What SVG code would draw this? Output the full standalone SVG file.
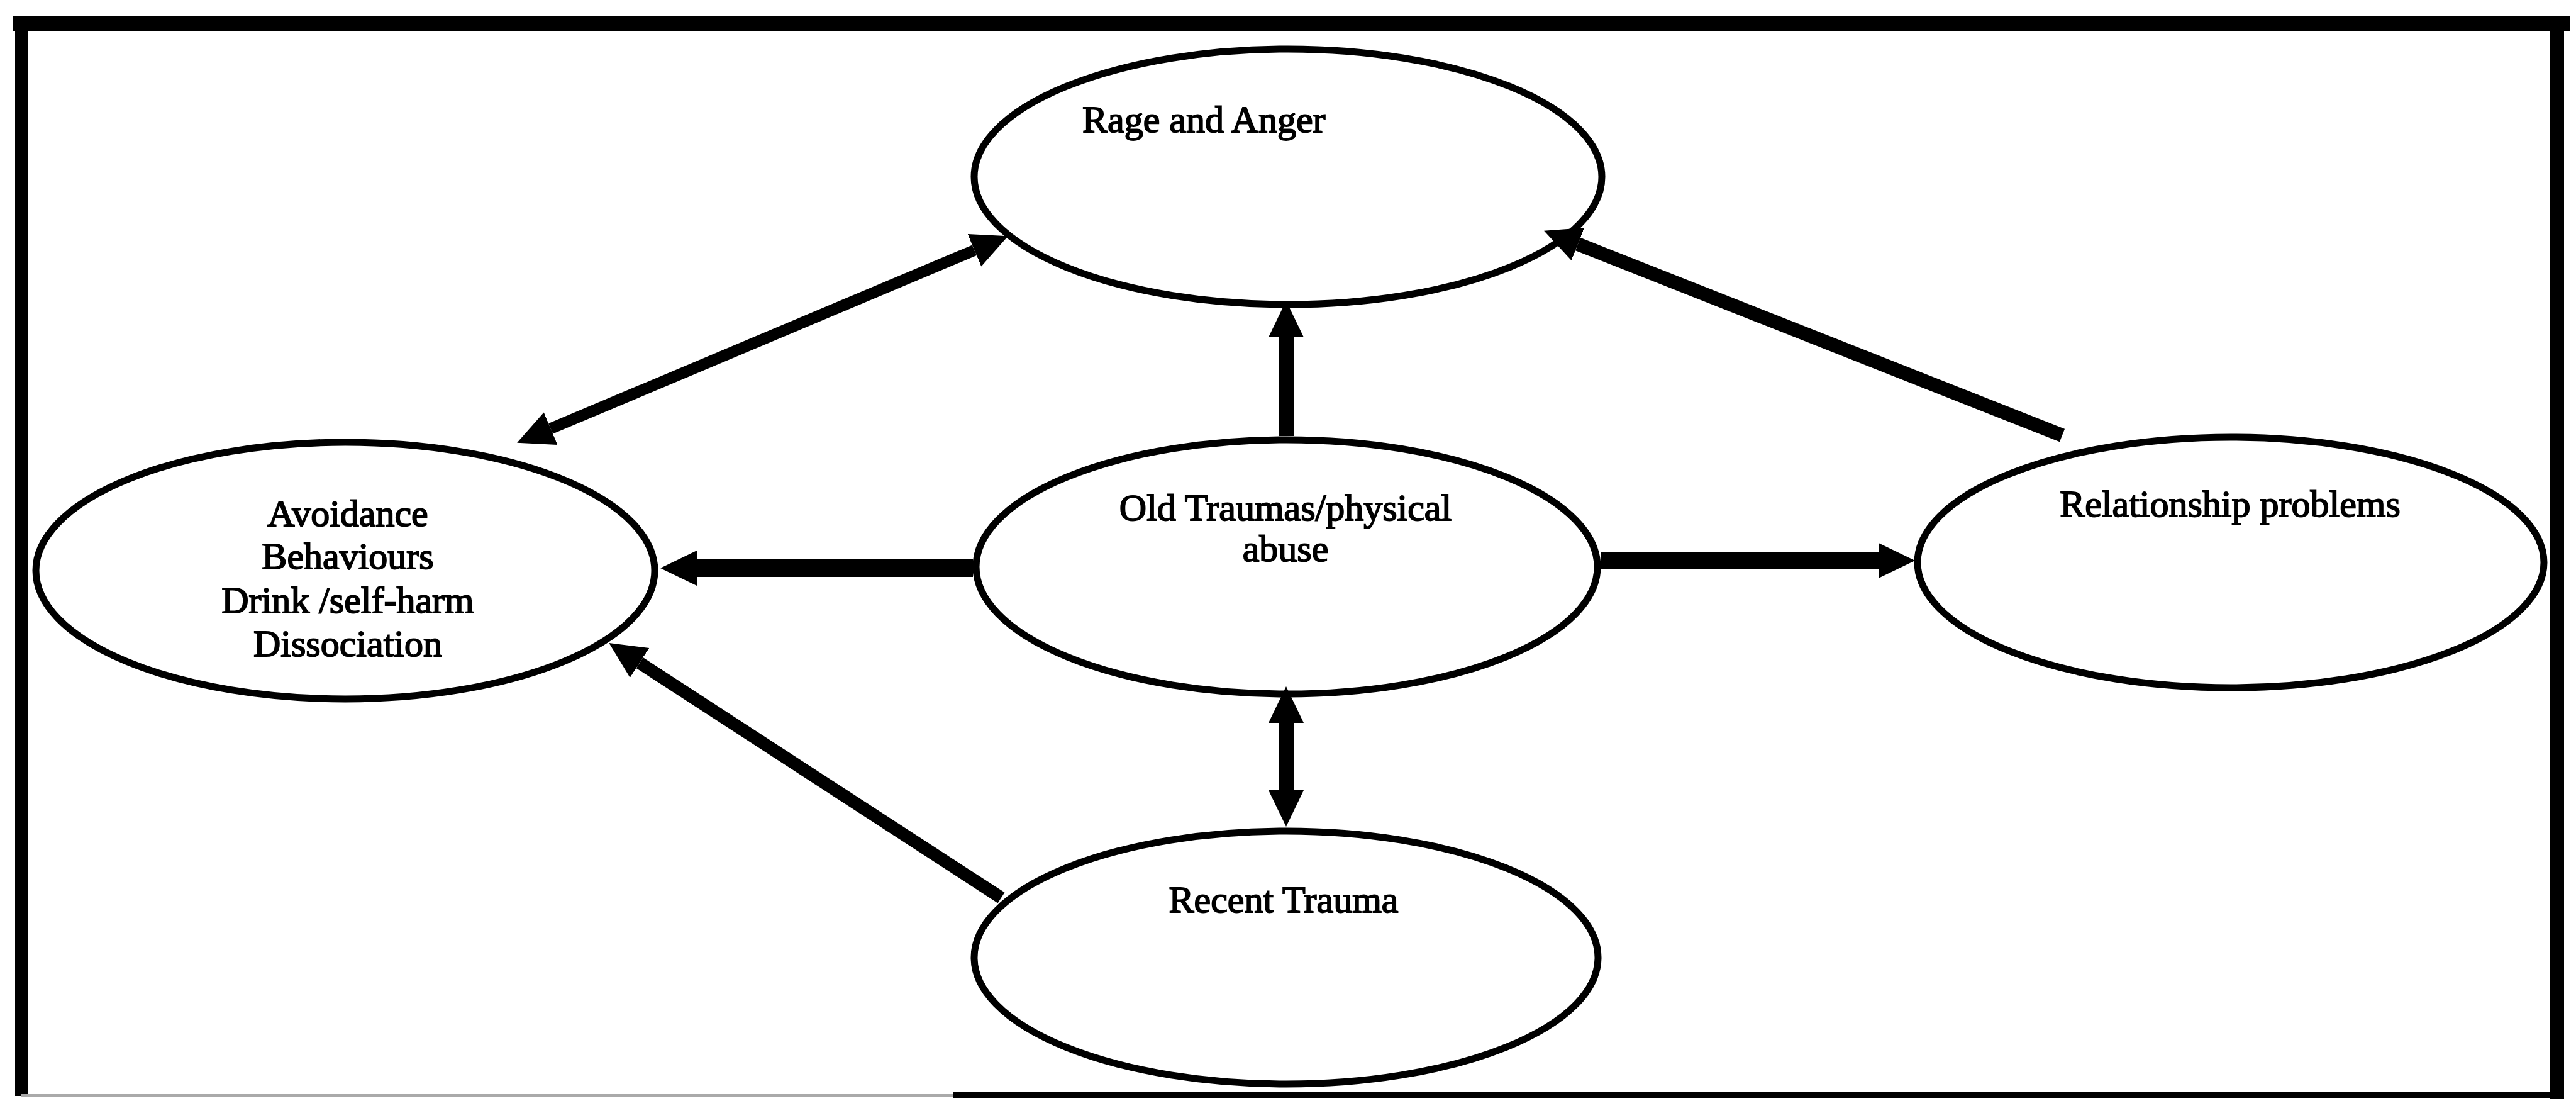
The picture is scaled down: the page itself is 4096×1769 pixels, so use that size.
<svg xmlns="http://www.w3.org/2000/svg" width="4096" height="1769" viewBox="0 0 4096 1769">
<defs>
<style>
.node ellipse{fill:#fff;stroke:#000;stroke-width:11}
.node text{font-family:"Liberation Serif","Times New Roman",serif;font-size:60px;fill:#000;stroke:#000;stroke-width:1.8}
.edge{fill:none;stroke:#000;stroke-linecap:butt}
.frame{stroke:#000;fill:none}
</style>
<marker id="ah" markerUnits="userSpaceOnUse" markerWidth="60" markerHeight="58" refX="0" refY="28" orient="auto-start-reverse" viewBox="0 0 60 58">
<path d="M0,0 L58,28 L0,56 Z" fill="#000"/>
</marker>
</defs>
<rect width="4096" height="1769" fill="#fff"/>
<g id="frame">
<line class="frame" x1="21" y1="37.5" x2="4087" y2="37.5" stroke-width="24"/>
<line class="frame" x1="34" y1="26" x2="34" y2="1742" stroke-width="20"/>
<line class="frame" x1="4066" y1="26" x2="4066" y2="1746" stroke-width="22"/>
<line x1="34" y1="1741" x2="1515" y2="1741" stroke="#aaa" stroke-width="4"/>
<line class="frame" x1="1515" y1="1740" x2="4077" y2="1740" stroke-width="10"/>
</g>
<g id="nodes">
<g id="rage" class="node">
<ellipse cx="2048" cy="281" rx="499" ry="203"/>
<text x="1721" y="210">Rage and Anger</text>
</g>
<g id="avoidance" class="node">
<ellipse cx="549" cy="907" rx="492" ry="204"/>
<text x="553" y="836" text-anchor="middle">Avoidance</text>
<text x="553" y="904" text-anchor="middle">Behaviours</text>
<text x="553" y="974" text-anchor="middle">Drink /self-harm</text>
<text x="553" y="1043" text-anchor="middle">Dissociation</text>
</g>
<g id="old" class="node">
<ellipse cx="2046" cy="901" rx="494" ry="202"/>
<text x="2044" y="827" text-anchor="middle">Old Traumas/physical</text>
<text x="2044" y="892" text-anchor="middle">abuse</text>
</g>
<g id="relationship" class="node">
<ellipse cx="3547" cy="894" rx="498" ry="199"/>
<text x="3546" y="821" text-anchor="middle">Relationship problems</text>
</g>
<g id="recent" class="node">
<ellipse cx="2045" cy="1522" rx="496" ry="201"/>
<text x="2041" y="1450" text-anchor="middle">Recent Trauma</text>
</g>
</g>
<g id="connectors">
<path class="edge" d="M875.6,681.3 L1549.4,397.7" stroke-width="18" marker-start="url(#ah)" marker-end="url(#ah)"/>
<path class="edge" d="M3279,692 L2509,388" stroke-width="22" marker-end="url(#ah)"/>
<path class="edge" d="M2045,693 L2045,536" stroke-width="24" marker-end="url(#ah)"/>
<path class="edge" d="M1547,903 L1108,903" stroke-width="28" marker-end="url(#ah)"/>
<path class="edge" d="M2546,891 L2987,891" stroke-width="28" marker-end="url(#ah)"/>
<path class="edge" d="M2045,1149 L2045,1256" stroke-width="24" marker-start="url(#ah)" marker-end="url(#ah)"/>
<path class="edge" d="M1592,1427 L1017,1053.5" stroke-width="20" marker-end="url(#ah)"/>
</g>
</svg>
